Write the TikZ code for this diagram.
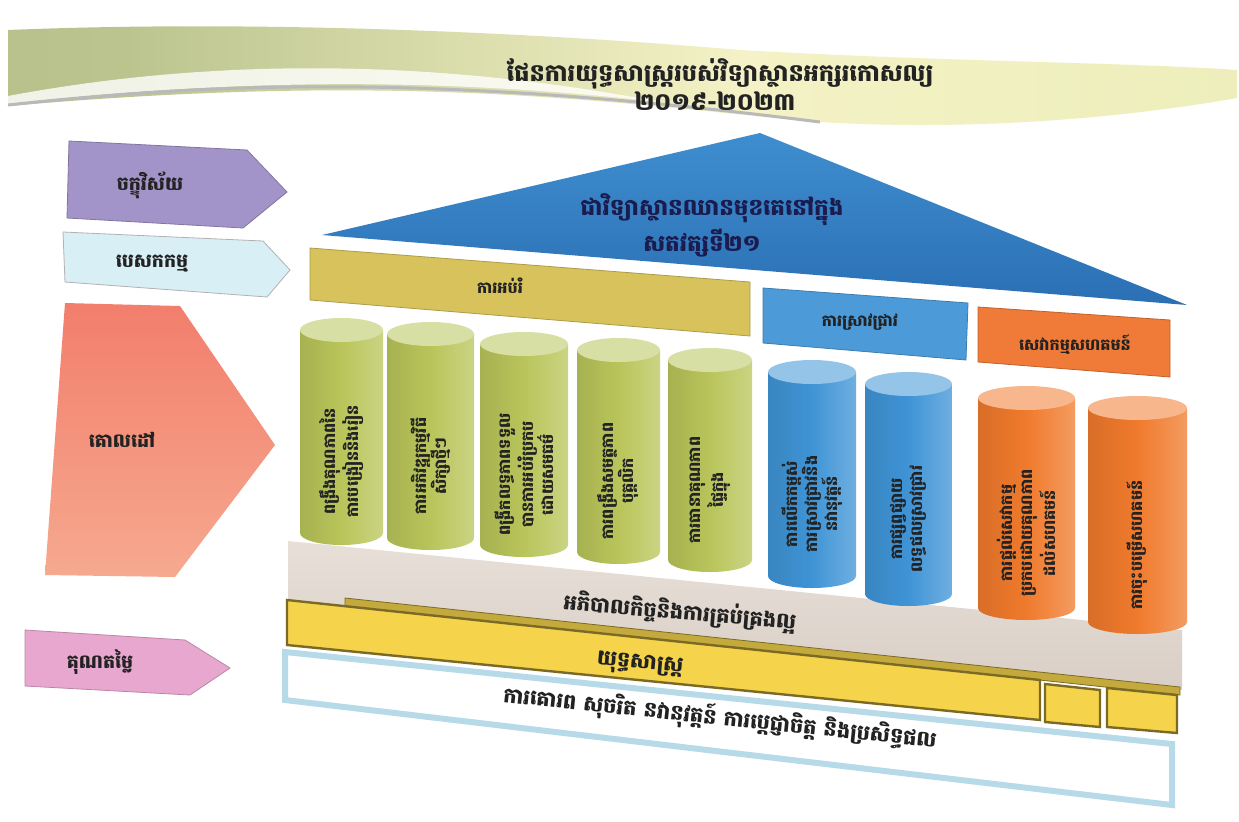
\documentclass[tikz,border=0pt]{standalone}
\usepackage{fontspec}
\newfontfamily\kh[Script=Khmer]{Battambang}
\definecolor{banL}{HTML}{A9B57C}
\definecolor{banM}{HTML}{F4F2C6}
\definecolor{banR}{HTML}{B7D36A}
\definecolor{vis}{HTML}{A294C8}
\definecolor{mis}{HTML}{D8EFF5}
\definecolor{goalT}{HTML}{F27E6C}
\definecolor{goalB}{HTML}{F6A98F}
\definecolor{valc}{HTML}{E8A7CF}
\definecolor{roofT}{HTML}{3E8ECF}
\definecolor{roofB}{HTML}{2B6FB4}
\definecolor{edu}{HTML}{D8C25C}
\definecolor{res}{HTML}{4C9BD8}
\definecolor{com}{HTML}{F07A38}
\definecolor{grn}{HTML}{B9C55A}
\definecolor{blu}{HTML}{3F94D6}
\definecolor{org}{HTML}{F07A2C}
\definecolor{fnd}{HTML}{E2D7CE}
\definecolor{ylw}{HTML}{F5D44C}
\definecolor{txt}{HTML}{222222}
\pgfdeclarehorizontalshading{banshade}{100bp}{color(0bp)=(banL); color(30bp)=(banL!75!banM); color(55bp)=(banM); color(80bp)=(banM!85!banR); color(100bp)=(banR)}
\tikzset{
  ttl/.style={font=\kh\bfseries\fontsize{12}{14}\selectfont, text=txt, inner sep=0pt},
  lbl/.style={font=\kh\bfseries\fontsize{9.5}{11}\selectfont, text=txt, inner sep=0pt},
  bandtxt/.style={font=\kh\bfseries\fontsize{8}{10}\selectfont, text=txt, inner sep=0pt},
  rooftxt/.style={font=\kh\bfseries\fontsize{11.5}{14}\selectfont, text=txt!80!blue, inner sep=0pt},
  piltxt/.style={font=\kh\bfseries\fontsize{8}{10}\selectfont, text=txt, rotate=90, align=center, inner sep=0pt},
  basetxt/.style={font=\kh\bfseries\fontsize{10.5}{12}\selectfont, text=txt, inner sep=0pt},
}
\newcommand\mypillar[7]{%
  \pgfmathsetmacro\xc{(#2+#3)/2}%
  \pgfmathsetmacro\rx{(#3-#2)/2}%
  \pgfmathsetmacro\ym{(#4+#5)/2+30}%
  \shade[left color=#6!90!black, right color=#6!75!white, middle color=#6]
    (#2,#4) -- (#2,#5) arc[start angle=180, end angle=360, x radius=\rx, y radius=-12] -- (#3,#4) -- cycle;
  \fill[#6!55!white] (\xc,#4) ellipse ({\rx} and 12);
  \node[piltxt] (#1) at (\xc,\ym) {#7};
}
\begin{document}
\begin{tikzpicture}[x=0.5pt,y=-0.5pt]
\useasboundingbox (0,0) rectangle (1239,821);
\fill[white] (0,0) rectangle (1239,821);
% title banner
\shade[shading=banshade]
  (8,30) .. controls (300,18) and (600,38) .. (740,50)
  .. controls (950,62) and (1120,62) .. (1237,70) -- (1237,98)
  .. controls (1100,122) and (950,130) .. (820,122)
  .. controls (620,105) and (420,70) .. (8,106) -- cycle;
\fill[white,opacity=0.8] (8,96) .. controls (200,60) and (420,56) .. (660,102)
  .. controls (430,76) and (220,80) .. (8,104) -- cycle;
\draw[gray!55, line width=1.5] (8,105) .. controls (220,82) and (440,74) .. (820,122);
\node[ttl] (title1) at (720,74) {ផែនការយុទ្ធសាស្ត្ររបស់វិទ្យាស្ថានអក្សរកោសល្យ};
\node[ttl] (title2) at (715,101) {២០១៩-២០២៣};
% left arrows
\filldraw[fill=vis, draw=vis!80!black] (69,141) -- (247,150) -- (287,192) -- (243,228) -- (67,218) -- cycle;
\node[lbl] (vision) at (150,185) {ចក្ខុវិស័យ};
\filldraw[fill=mis, draw=gray!60] (63,232) -- (263,241) -- (290,270) -- (267,297) -- (65,282) -- cycle;
\node[lbl] (mission) at (152,264) {បេសកកម្ម};
\shade[top color=goalT, bottom color=goalB] (65,303) -- (180,306) -- (275,445) -- (175,577) -- (45,575) -- cycle;
\node[lbl] (goal) at (122,440) {គោលដៅ};
\filldraw[fill=valc, draw=valc!80!black] (25,630) -- (185,640) -- (230,668) -- (190,695) -- (25,686) -- cycle;
\node[lbl] (values) at (100,662) {គុណតម្លៃ};
% roof
\shade[top color=roofT, bottom color=roofB] (322,235) -- (760,133) -- (1187,305) -- cycle;
\node[rooftxt] (roof1) at (712,210) {ជាវិទ្យាស្ថានឈានមុខគេនៅក្នុង};
\node[rooftxt] (roof2) at (702,243) {សតវត្សទី២១};
% bands
\filldraw[fill=edu, draw=edu!80!black] (310,248) -- (750,282) -- (750,336) -- (310,300) -- cycle;
\node[bandtxt] (edu) at (500,286) {ការអប់រំ};
\filldraw[fill=res, draw=res!80!black] (763,288) -- (968,303) -- (966,360) -- (763,343) -- cycle;
\node[bandtxt] (res) at (860,322) {ការស្រាវជ្រាវ};
\filldraw[fill=com, draw=com!80!black] (978,307) -- (1170,320) -- (1170,377) -- (978,362) -- cycle;
\node[bandtxt] (com) at (1075,345) {សេវាកម្មសហគមន៍};
% foundation
\shade[top color=fnd!80!white, bottom color=fnd!90!gray] (288,541) -- (1182,630) -- (1182,690) -- (288,603) -- cycle;
\node[basetxt, rotate=-5] (gov) at (680,612) {អភិបាលកិច្ចនិងការគ្រប់គ្រងល្អ};
% values bar
\filldraw[fill=white, draw=gray!45!cyan!40, line width=3] (285,652) -- (1172,744) -- (1172,805) -- (285,700) -- cycle;
\node[basetxt, rotate=-6] (val) at (720,718) {ការគោរព សុចរិត នវានុវត្តន៍ ការប្តេជ្ញាចិត្ត និងប្រសិទ្ធផល};
% yellow strategy bar
\filldraw[fill=ylw!80!black, draw=ylw!50!black] (345,598) -- (1180,687) -- (1180,695) -- (345,606) -- cycle;
\filldraw[fill=ylw, draw=ylw!50!black, line width=1.2] (287,600) -- (1040,680) -- (1040,720) -- (287,645) -- cycle;
\filldraw[fill=ylw, draw=ylw!50!black, line width=1.2] (1045,684) -- (1100,690) -- (1100,727) -- (1045,722) -- cycle;
\filldraw[fill=ylw, draw=ylw!50!black, line width=1.2] (1107,688) -- (1177,695) -- (1177,733) -- (1107,727) -- cycle;
\node[basetxt, rotate=-5] (strat) at (640,665) {យុទ្ធសាស្ត្រ};
% pillars
\mypillar{g1}{300}{383}{330}{533}{grn}{ពង្រឹងគុណភាពនៃ\\ការបង្រៀននិងរៀន}
\mypillar{g2}{387}{474}{334}{538}{grn}{ការអភិវឌ្ឍកម្មវិធី\\សិក្សាថ្មីៗ}
\mypillar{g3}{480}{568}{344}{545}{grn}{ពង្រីកលទ្ធភាពទទួល\\បានការអប់រំប្រកប\\ដោយសមធម៌}
\mypillar{g4}{577}{660}{350}{552}{grn}{ការពង្រឹងសមត្ថភាព\\បុគ្គលិក}
\mypillar{g5}{668}{752}{360}{560}{grn}{ការធានាគុណភាព\\ផ្ទៃក្នុង}
\mypillar{b1}{768}{856}{372}{576}{blu}{ការលើកកម្ពស់\\ការស្រាវជ្រាវនិង\\នវានុវត្តន៍}
\mypillar{b2}{865}{952}{384}{594}{blu}{ការផ្សព្វផ្សាយ\\លទ្ធផលស្រាវជ្រាវ}
\mypillar{o1}{978}{1075}{398}{608}{org}{ការផ្តល់សេវាកម្ម\\ប្រកបដោយគុណភាព\\ដល់សហគមន៍}
\mypillar{o2}{1088}{1187}{408}{622}{org}{ការចុះបម្រើសហគមន៍}
\end{tikzpicture}
\end{document}
